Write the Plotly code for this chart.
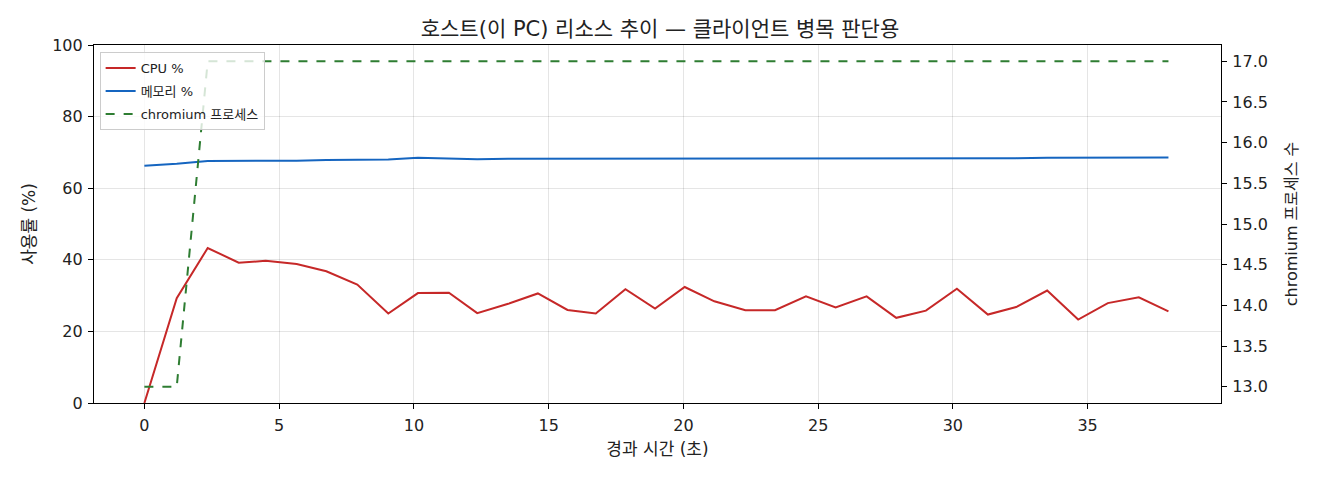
import plotly.graph_objects as go

time_s = [0, 1.2, 2.35, 3.5, 4.5, 5.65, 6.75, 7.9, 9.05, 10.15, 11.3, 12.35, 13.5, 14.6, 15.7, 16.75,
          17.85, 18.95, 20.05, 21.15, 22.3, 23.4, 24.55, 25.65, 26.8, 27.9, 29.0, 30.15, 31.3, 32.35,
          33.5, 34.65, 35.75, 36.9, 38.0]
cpu_pct = [0, 29.3, 43.3, 39.2, 39.7, 38.8, 36.8, 33.1, 25.0, 30.7, 30.8, 25.1, 27.7, 30.6, 26.0, 25.0,
           31.8, 26.4, 32.4, 28.4, 25.9, 25.9, 29.8, 26.7, 29.8, 23.8, 25.8, 31.9, 24.7, 26.8,
           31.4, 23.3, 27.9, 29.5, 25.6]
mem_pct = [66.3, 66.8, 67.6, 67.6, 67.6, 67.7, 67.9, 68.0, 68.0, 68.5, 68.3, 68.1, 68.2, 68.2, 68.2, 68.2,
           68.3, 68.3, 68.4, 68.3, 68.4, 68.4, 68.4, 68.4, 68.4, 68.4, 68.3, 68.4, 68.4, 68.4,
           68.5, 68.5, 68.6, 68.6, 68.6]
chromium_procs = [13, 13] + [17] * 33

title = "호스트(이 PC) 리소스 추이 — 클라이언트 병목 판단용"
x_label = "경과 시간 (초)"
y_label = "사용률 (%)"
y2_label = "chromium 프로세스 수"

FONT = "DejaVu Sans, Noto Sans CJK KR, Noto Sans"

fig = go.Figure()
fig.add_trace(go.Scatter(x=time_s, y=cpu_pct, mode="lines", name="CPU %", legendgroup="a",
                         line=dict(color="#c62828", width=2)))
fig.add_trace(go.Scatter(x=time_s, y=mem_pct, mode="lines", name="메모리 %", legendgroup="b",
                         line=dict(color="#1565c0", width=2)))
fig.add_trace(go.Scatter(x=time_s, y=chromium_procs, mode="lines", name="chromium 프로세스",
                         legendgroup="c",
                         line=dict(color="#2e7d32", width=2, dash="dash"), yaxis="y2"))

axis_common = dict(showline=True, linecolor="black", linewidth=1.2, ticks="outside",
                   ticklen=5, tickcolor="black", tickfont=dict(size=16, color="#222"),
                   zeroline=False)

fig.update_layout(
    width=1304, height=464,
    margin=dict(l=85.5, r=91, t=37, b=69, autoexpand=False),
    paper_bgcolor="white", plot_bgcolor="white",
    font=dict(family=FONT, color="#222"),
    title=dict(text=title, x=0.5, xanchor="center", y=0.955, yanchor="middle",
               font=dict(size=21, color="#222")),
    xaxis=dict(range=[-1.87, 39.95], tickvals=[0, 5, 10, 15, 20, 25, 30, 35],
               showgrid=True, gridcolor="rgba(0,0,0,0.1)", mirror=True, automargin=False,
               ticklabelstandoff=3,
               title=dict(text=x_label, font=dict(size=17), standoff=8), **axis_common),
    yaxis=dict(range=[0, 100], tickvals=[0, 20, 40, 60, 80, 100],
               showgrid=True, gridcolor="rgba(0,0,0,0.1)", automargin=False,
               ticklabelstandoff=2,
               title=dict(text=y_label, font=dict(size=17), standoff=12), **axis_common),
    yaxis2=dict(range=[12.8, 17.2], overlaying="y", side="right", automargin=False,
                tickvals=[13.0, 13.5, 14.0, 14.5, 15.0, 15.5, 16.0, 16.5, 17.0], tickformat=".1f",
                showgrid=False, ticklabelstandoff=2,
                title=dict(text=y2_label, font=dict(size=16), standoff=18), **axis_common),
    legend=dict(x=0.005, y=0.98, xanchor="left", yanchor="top",
                bgcolor="rgba(255,255,255,0.8)", bordercolor="#cccccc", borderwidth=1,
                font=dict(size=13, color="#222"), tracegroupgap=3, itemwidth=30),
    showlegend=True,
)

fig.write_html("out.html")
